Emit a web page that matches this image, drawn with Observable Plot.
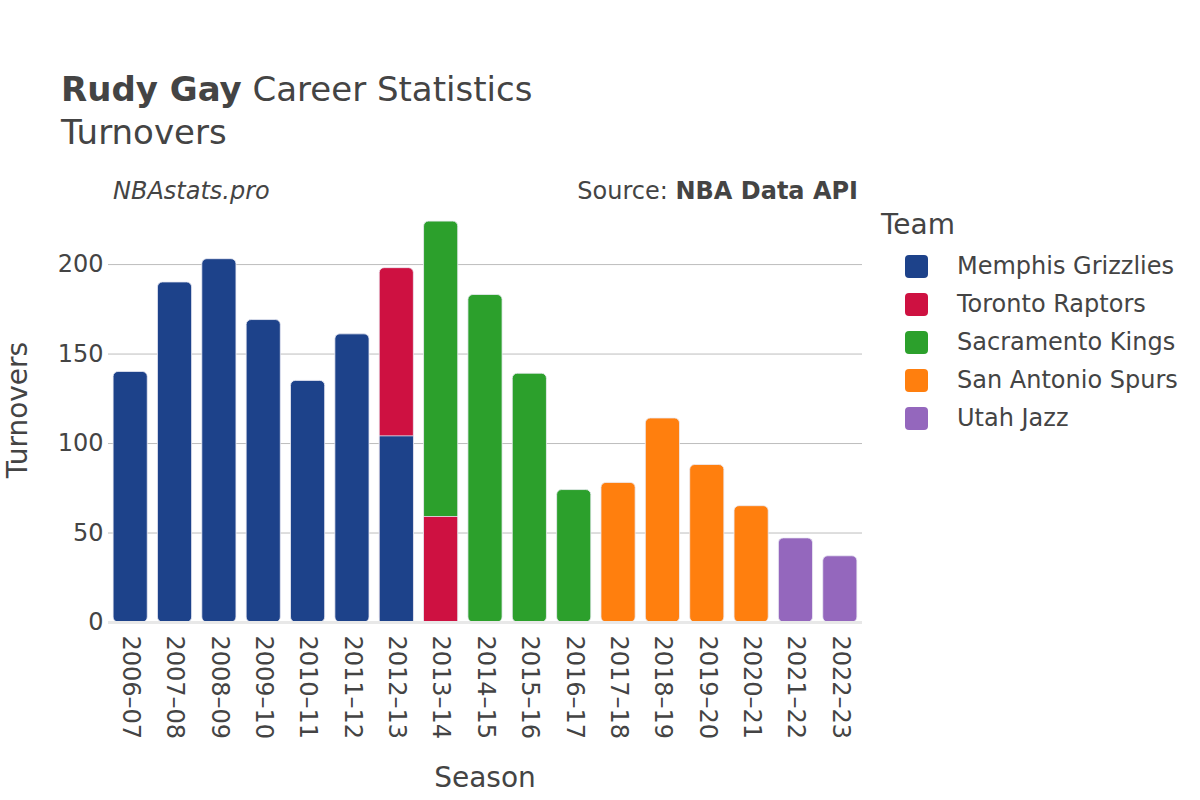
<!DOCTYPE html>
<html>
<head>
<meta charset="utf-8">
<script src="https://cdn.jsdelivr.net/npm/d3@7"></script>
<script src="https://cdn.jsdelivr.net/npm/@observablehq/plot@0.6"></script>
<style>
  html, body { margin: 0; padding: 0; background: #fff; }
  body { font-family: "DejaVu Sans", sans-serif; color: #444; }
  #wrap { position: relative; width: 1200px; height: 800px; overflow: hidden; }
  #chart { position: absolute; left: 0; top: 0; }
  .abs { position: absolute; white-space: nowrap; line-height: 1; }
  .title { left: 61px; top: 72px; font-size: 34px; }
  .subtitle { left: 61px; top: 115px; font-size: 34px; }
  .brand { left: 113px; top: 179px; font-size: 24px; font-style: italic; }
  .source { right: 342px; top: 179px; font-size: 24px; }
  .ylab { left: 18px; top: 410px; font-size: 28px; transform: translate(-50%, -50%) rotate(-90deg); transform-origin: center; }
  .xlab { left: 485px; top: 778px; font-size: 28px; transform: translate(-50%, -50%); }
  .legtitle { left: 881px; top: 211px; font-size: 28px; }
  .legitem { left: 905px; font-size: 24px; display: flex; align-items: center; }
  .sw { width: 23px; height: 23px; border-radius: 4px; margin-right: 29px; }
</style>
</head>
<body>
<div id="wrap">
  <div id="chart"></div>
  <div class="abs title"><b>Rudy Gay</b> Career Statistics</div>
  <div class="abs subtitle">Turnovers</div>
  <div class="abs brand">NBAstats.pro</div>
  <div class="abs source">Source: <b>NBA Data API</b></div>
  <div class="abs ylab">Turnovers</div>
  <div class="abs xlab">Season</div>
  <div class="abs legtitle">Team</div>
  <div id="legend"></div>
</div>
<script>
const seasons = ["2006–07","2007–08","2008–09","2009–10","2010–11","2011–12","2012–13","2013–14","2014–15","2015–16","2016–17","2017–18","2018–19","2019–20","2020–21","2021–22","2022–23"];
const teams = ["Memphis Grizzlies","Toronto Raptors","Sacramento Kings","San Antonio Spurs","Utah Jazz"];
const teamColors = ["#1d428a","#ce1141","#2ca02c","#ff7f0e","#9467bd"];
const memphisTO    = [140,190,203,169,135,161,104,null,null,null,null,null,null,null,null,null,null];
const torontoTO    = [null,null,null,null,null,null,94,59,null,null,null,null,null,null,null,null,null];
const sacramentoTO = [null,null,null,null,null,null,null,165,183,139,74,null,null,null,null,null,null];
const spursTO      = [null,null,null,null,null,null,null,null,null,null,null,78,114,88,65,null,null];
const jazzTO       = [null,null,null,null,null,null,null,null,null,null,null,null,null,null,null,47,37];
const yTicks = [0,50,100,150,200];

const teamSeries = [memphisTO, torontoTO, sacramentoTO, spursTO, jazzTO];
const rows = [];
const cum = seasons.map(() => 0);
teamSeries.forEach((vals, ti) => {
  vals.forEach((v, si) => {
    if (v == null) return;
    rows.push({season: seasons[si], team: teams[ti], value: v, y1: cum[si], y2: cum[si] + v, si});
    cum[si] += v;
  });
});
const topIndex = new Map();
rows.forEach((r, i) => topIndex.set(r.si, i));
rows.forEach((r, i) => r.top = topIndex.get(r.si) === i);
// top segments are drawn rounded from the baseline; lower segments are drawn over them
const topRows = rows.filter(r => r.top).map(r => ({...r, y1: 0}));
const lowerRows = rows.filter(r => !r.top);

const plot = Plot.plot({
  width: 1200,
  height: 800,
  marginLeft: 108,
  marginRight: 338,
  marginTop: 200,
  marginBottom: 178,
  style: {fontFamily: "'DejaVu Sans', sans-serif", fontSize: "24px", color: "#444", background: "transparent"},
  x: {domain: seasons, paddingInner: 0.23, paddingOuter: 0.115, round: false, label: null},
  y: {domain: [0, 235.8], label: null},
  color: {domain: teams, range: teamColors},
  marks: [
    Plot.ruleY(yTicks.filter(d => d > 0), {stroke: "#bdbdbd", strokeWidth: 1}),
    Plot.rectY(topRows, {x: "season", y1: "y1", y2: "y2", fill: "team", stroke: "#ececf5", strokeWidth: 0.8, rx: 5}),
    Plot.rectY(lowerRows, {x: "season", y1: "y1", y2: "y2", fill: "team", stroke: "#ececf5", strokeWidth: 0.8}),
    Plot.ruleY([0], {stroke: "#e8e8e8", strokeWidth: 3}),
    Plot.axisY(yTicks, {tickSize: 0, tickPadding: 5, fontSize: 24, fill: "#444", label: null}),
    Plot.axisX({tickSize: 0, tickPadding: 13, tickRotate: 90, fontSize: 24, fill: "#444", label: null})
  ]
});
document.getElementById("chart").appendChild(plot);

const legend = document.getElementById("legend");
teams.forEach((t, i) => {
  const item = document.createElement("div");
  item.className = "abs legitem";
  item.style.top = (254 + i * 38) + "px";
  const sw = document.createElement("div");
  sw.className = "sw";
  sw.style.background = teamColors[i];
  const lab = document.createElement("span");
  lab.textContent = t;
  item.appendChild(sw);
  item.appendChild(lab);
  legend.appendChild(item);
});
</script>
</body>
</html>
